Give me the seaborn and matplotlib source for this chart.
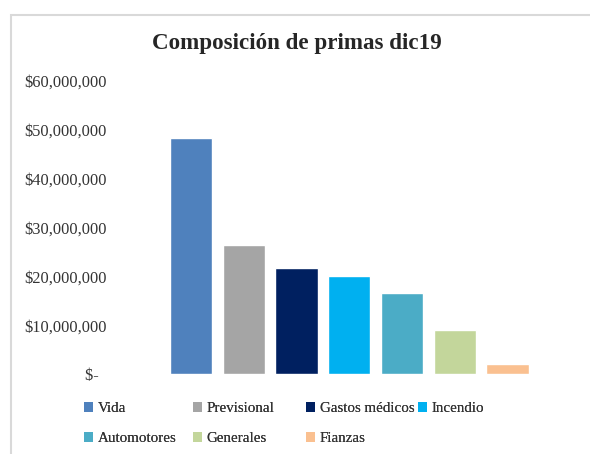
import matplotlib
matplotlib.use('Agg')
import matplotlib.pyplot as plt
import seaborn as sns
from matplotlib.patches import Patch, Rectangle
from matplotlib.ticker import FuncFormatter

categorias = ['Vida', 'Previsional', 'Gastos médicos', 'Incendio',
              'Automotores', 'Generales', 'Fianzas']
primas = [48400000, 26500000, 21800000, 20100000, 16500000, 9100000, 2100000]
colores = ['#4F81BD', '#A5A5A5', '#002060', '#00B0F0',
           '#4BACC6', '#C3D69B', '#FAC090']
y_ticks = [0, 10000000, 20000000, 30000000, 40000000, 50000000, 60000000]


def money(v, pos):
    if v == 0:
        return '$-  '
    return f'${v:,.0f}'


def main():
    sns.set_style('white')
    plt.rcParams['font.family'] = ['Liberation Serif', 'DejaVu Serif']

    fig = plt.figure(figsize=(5.9, 4.54), dpi=100)
    ax = fig.add_axes([0.279, 0.1762, 0.626, 0.6454])

    sns.barplot(x=categorias, y=primas, hue=categorias, palette=colores,
                width=0.8, saturation=1, legend=False, ax=ax)

    ax.set_xlim(-0.5, 6.5)
    ax.set_ylim(0, 60000000)
    ax.set_yticks(y_ticks)
    ax.yaxis.set_major_formatter(FuncFormatter(money))
    ax.set_xticks([])
    ax.tick_params(axis='y', length=0, pad=41.5, labelsize=11.8,
                   labelcolor='#333333')
    for s in ax.spines.values():
        s.set_visible(False)
    ax.set_xlabel('')
    ax.set_ylabel('')

    fig.text(0.503, 1 - 43 / 454, 'Composición de primas dic19',
             ha='center', va='center', fontsize=16.6, fontweight='bold')

    # marco del grafico
    fig.patches.append(Rectangle((10.5 / 590, -0.1), 1.2, 1.1 - 15 / 454,
                                 transform=fig.transFigure, fill=False,
                                 edgecolor='#D9D9D9', linewidth=1.5))

    # leyenda en 4 columnas de ancho fijo, como en Excel
    columnas = [[0, 4], [1, 5], [2, 6], [3]]
    x_cols = [84, 193, 306, 418]
    for idx, xc in zip(columnas, x_cols):
        handles = [Patch(facecolor=colores[i], edgecolor='none',
                         label=categorias[i]) for i in idx]
        leg = fig.legend(handles=handles, loc='upper left',
                         bbox_to_anchor=(xc / 590, 1 - 402 / 454),
                         frameon=False, fontsize=10.8, borderpad=0,
                         borderaxespad=0, handlelength=0.6,
                         handleheight=0.6, handletextpad=0.3,
                         labelspacing=1.15, labelcolor='#333333')
        fig.add_artist(leg)

    fig.savefig('out.png', dpi=100)


if __name__ == '__main__':
    main()
